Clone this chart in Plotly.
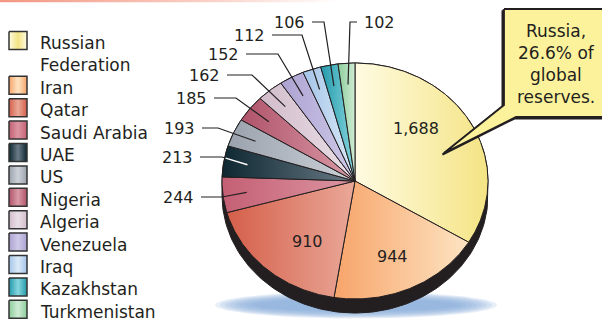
import numpy as np
import plotly.graph_objects as go

# Proven natural gas reserves by country (billion cubic metres)
countries = ["Russian Federation", "Iran", "Qatar", "Saudi Arabia", "UAE", "US",
             "Nigeria", "Algeria", "Venezuela", "Iraq", "Kazakhstan", "Turkmenistan"]
reserves = [1688, 944, 910, 244, 213, 193, 185, 162, 152, 112, 106, 102]
callout_lines = ["Russia,", "26.6% of", "global", "reserves."]

# Gradient colours per slice: (shaded side, lit side)
shade_dark = ["#fffbe2", "#f7a46a", "#d45f4a", "#c45f74", "#0d2730", "#9aa2ad",
              "#b0536a", "#d2bccb", "#aca2d2", "#a4c4e8", "#2399ab", "#8bcd9b"]
shade_light = ["#f4e484", "#fde4c2", "#eaa898", "#dc96a2", "#6b7b87", "#cdd1d8",
               "#d99aa6", "#eae0e7", "#cfcae8", "#dbeaf7", "#86d6de", "#d0ebd5"]
label_on_dark = [False, False, False, False, True, False,
                 False, False, False, False, False, False]

INK = "#231f20"
FONT_WORD = "DejaVu Sans"
FONT_NUM = "DejaVu Sans"

# Pie geometry in page pixels (ellipse: tilted disc)
CX, CY, RX, RY, DEPTH = 355.0, 181.0, 133.0, 118.0, 14.0


def ell(theta, f=1.0, dy=0.0):
    t = np.radians(theta)
    return CX + RX * f * np.sin(t), CY - RY * f * np.cos(t) + dy


fig = go.Figure()

# thin accent strip along the top edge
fig.add_trace(go.Scatter(
    x=[0, 340, 340, 0, 0], y=[0, 0, 2.2, 2.2, 0], mode="lines", fill="toself",
    line=dict(width=0), fillcolor="#f39a86",
    fillgradient=dict(type="horizontal", colorscale=[[0, "#f39682"], [0.6, "#f9cfc4"], [1, "#ffffff"]]),
    hoverinfo="skip"))

# soft blue ground shadow under the disc
for k in range(9):
    sx = 141 - k * 5
    sy = 13.5 - k * 0.9
    tt = np.linspace(0, 2 * np.pi, 120)
    fig.add_trace(go.Scatter(
        x=356 + sx * np.cos(tt), y=305 + sy * np.sin(tt), mode="lines", fill="toself",
        line=dict(width=0), fillcolor="rgba(140,176,222,0.2)", hoverinfo="skip"))

# dark side wall of the disc
a_lo = np.linspace(90, 270, 120)
a_hi = np.linspace(270, 450, 120)
bx, by = ell(a_lo, dy=DEPTH)
tx, ty = ell(a_hi)
fig.add_trace(go.Scatter(
    x=np.concatenate([[CX + RX], bx, [CX - RX], tx]),
    y=np.concatenate([[CY], by, [CY], ty]),
    mode="lines", fill="toself", fillcolor=INK, line=dict(color=INK, width=1),
    hoverinfo="skip"))

# slices, clockwise from twelve o'clock
total = float(sum(reserves))
mids = []
acc = 0.0
for i, v in enumerate(reserves):
    a0 = acc / total * 360
    a1 = (acc + v) / total * 360
    acc += v
    mids.append((a0 + a1) / 2)
    arc = np.linspace(a0, a1, max(3, int(a1 - a0) * 2 + 2))
    ax_, ay_ = ell(arc)
    fig.add_trace(go.Scatter(
        x=np.concatenate([[CX], ax_, [CX]]), y=np.concatenate([[CY], ay_, [CY]]),
        mode="lines", fill="toself", fillcolor=shade_light[i],
        fillgradient=dict(type="horizontal",
                          colorscale=[[0, shade_dark[i]], [1, shade_light[i]]]),
        line=dict(color=INK, width=1), hoverinfo="skip"))

annotations = []

# labels inside the three largest slices
inner_pos = {0: (416, 128), 1: (392, 256), 2: (307, 241)}
for i, (px, py) in inner_pos.items():
    annotations.append(dict(x=px, y=py, text=f"{reserves[i]:,}", showarrow=False,
                            xanchor="center", yanchor="middle",
                            font=dict(family=FONT_NUM, size=16, color=INK)))

# leader-line labels for the small slices: (text x, text y, elbow x, side)
outer_pos = {
    3: (196, 197, 222, "left"), 4: (195, 157, 222, "left"),
    5: (197, 128, 218, "left"), 6: (209, 98, 236, "left"),
    7: (222, 75, 252, "left"), 8: (241, 54, 278, "left"),
    9: (267, 35, 302, "left"), 10: (307, 22, 324, "left"),
    11: (362, 22, 350, "right"),
}
for i, (lx, ly, ex, side) in outer_pos.items():
    axp, ayp = ell(mids[i], f=0.82)
    if side == "left":
        xs = [lx + 5, ex, axp]
        anchor = "right"
    else:
        xs = [lx - 5, ex, axp]
        anchor = "left"
    annotations.append(dict(x=lx, y=ly, text=f"{reserves[i]:,}", showarrow=False,
                            xanchor=anchor, yanchor="middle",
                            font=dict(family=FONT_NUM, size=16, color=INK)))
    ys = [ly, ly, ayp]
    fig.add_trace(go.Scatter(x=xs, y=ys, mode="lines",
                             line=dict(color=INK, width=1.2), hoverinfo="skip"))
    if label_on_dark[i]:
        # part of the leader inside a dark slice is drawn white
        ts = np.linspace(0, 1, 200)
        px_ = ex + (axp - ex) * ts
        py_ = ly + (ayp - ly) * ts
        inside = ((px_ - CX) / RX) ** 2 + ((py_ - CY) / RY) ** 2 < 0.985
        fig.add_trace(go.Scatter(x=px_[inside], y=py_[inside], mode="lines",
                                 line=dict(color="white", width=1.4), hoverinfo="skip"))

# callout box pointing into the Russia slice
box_x = [504, 612, 612, 516, 444, 504, 504]
box_y = [9, 9, 117, 117, 153, 105, 9]
fig.add_trace(go.Scatter(x=[x - 1.5 for x in box_x], y=[y + 1.5 for y in box_y],
                         mode="lines", fill="toself", fillcolor=INK,
                         line=dict(color=INK, width=2), hoverinfo="skip"))
fig.add_trace(go.Scatter(x=box_x, y=box_y, mode="lines", fill="toself",
                         fillcolor="#fdf29c", line=dict(color=INK, width=1.8),
                         hoverinfo="skip"))
for k, line in enumerate(callout_lines):
    annotations.append(dict(x=556, y=31 + 22 * k, text=line, showarrow=False,
                            xanchor="center", yanchor="middle",
                            font=dict(family=FONT_WORD, size=17, color=INK)))

# legend: swatches and names
row = 0
for i, name in enumerate(countries):
    sc = 43 + 22.4 * row - 2.5
    fig.add_trace(go.Scatter(
        x=[9, 27, 27, 9, 9], y=[sc - 9, sc - 9, sc + 9, sc + 9, sc - 9],
        mode="lines", fill="toself", fillcolor=shade_light[i],
        fillgradient=dict(type="horizontal",
                          colorscale=[[0, shade_dark[i]], [0.5, shade_light[i]], [1, shade_dark[i]]]),
        line=dict(color="#333333", width=1.5), hoverinfo="skip"))
    words = name.split(" ")
    lines = [name] if len(name) < 13 else [" ".join(words[:-1]), words[-1]]
    for ln in lines:
        annotations.append(dict(x=38, y=43 + 22.4 * row, text=ln, showarrow=False,
                                xanchor="left", yanchor="middle",
                                font=dict(family=FONT_WORD, size=17, color=INK)))
        row += 1

fig.update_layout(
    width=602, height=322, autosize=False,
    margin=dict(l=0, r=0, t=0, b=0, pad=0),
    paper_bgcolor="white", plot_bgcolor="white",
    showlegend=False, annotations=annotations,
    xaxis=dict(range=[0, 602], visible=False, fixedrange=True),
    yaxis=dict(range=[322, 0], visible=False, fixedrange=True),
)

fig.write_html("out.html", config={"displayModeBar": False})
